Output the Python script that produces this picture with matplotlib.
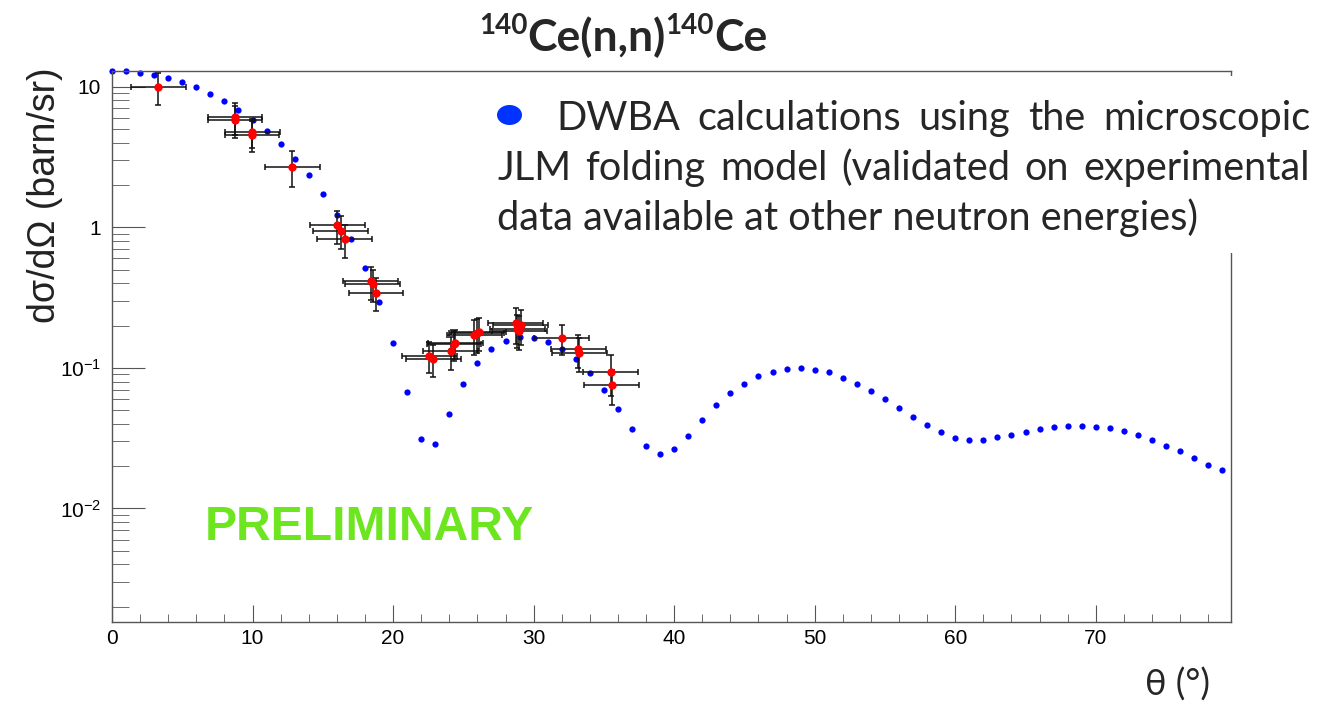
import numpy as np
import matplotlib.pyplot as plt
from matplotlib.patches import Rectangle, Ellipse
from matplotlib.ticker import MultipleLocator, FixedLocator, FixedFormatter, LogLocator, NullFormatter

plt.rcParams['font.family'] = 'Liberation Sans'
plt.rcParams['mathtext.fontset'] = 'custom'
plt.rcParams['mathtext.rm'] = 'Liberation Sans'
plt.rcParams['mathtext.it'] = 'Liberation Sans:italic'
plt.rcParams['mathtext.bf'] = 'Liberation Sans:bold'

# DWBA / JLM calculation, 1 degree steps
theta_calc = list(range(80))
xs_calc = [13.0, 12.9, 12.6, 12.1, 11.6, 10.8, 9.9, 8.87, 7.91, 6.82,
           5.77, 4.82, 3.91, 3.06, 2.36, 1.73, 1.22, 0.826, 0.511, 0.296,
           0.150, 0.0670, 0.0312, 0.0288, 0.0472, 0.0764, 0.108, 0.136, 0.155, 0.165,
           0.162, 0.153, 0.136, 0.115, 0.0916, 0.0697, 0.0510, 0.0366, 0.0277, 0.0243,
           0.0264, 0.0326, 0.0426, 0.0542, 0.0663, 0.0773, 0.0876, 0.0939, 0.0982, 0.0998,
           0.0971, 0.0930, 0.0852, 0.0773, 0.0689, 0.0604, 0.0516, 0.0448, 0.0393, 0.0348,
           0.0319, 0.0308, 0.0308, 0.0321, 0.0332, 0.0348, 0.0366, 0.0380, 0.0386, 0.0386,
           0.0382, 0.0374, 0.0357, 0.0332, 0.0307, 0.0280, 0.0255, 0.0229, 0.0205, 0.0187]

# measured points
theta_exp = [3.30, 8.75, 8.75, 9.99, 9.94, 12.83, 16.04, 16.28, 16.56, 18.41,
             18.55, 18.79, 22.58, 22.87, 24.11, 24.34, 24.43, 25.77, 25.96, 26.10,
             28.73, 28.85, 28.97, 29.09, 32.01, 33.19, 33.26, 35.49, 35.57]
xs_exp = [9.95, 6.10, 5.80, 4.79, 4.56, 2.70, 1.03, 0.946, 0.826, 0.415,
          0.394, 0.343, 0.1216, 0.116, 0.132, 0.147, 0.150, 0.171, 0.176, 0.179,
          0.2075, 0.188, 0.184, 0.201, 0.1625, 0.1357, 0.128, 0.0935, 0.0752]
dtheta_exp = [1.93, 1.93, 1.93, 1.93, 1.93, 1.96, 1.95, 1.95, 1.95, 1.95,
              1.95, 1.95, 1.95, 1.95, 1.95, 1.95, 1.95, 1.95, 1.95, 1.95,
              1.95, 1.95, 1.95, 1.95, 1.95, 1.95, 1.95, 1.95, 1.95]
dxs_exp = [2.5, 1.6, 1.5, 1.15, 1.15, 0.77, 0.27, 0.25, 0.22, 0.11,
           0.10, 0.09, 0.03, 0.03, 0.035, 0.035, 0.035, 0.048, 0.048, 0.048,
           0.06, 0.05, 0.05, 0.055, 0.038, 0.036, 0.034, 0.03, 0.021]

W, H = 1320, 703
fig = plt.figure(figsize=(W / 100, H / 100), dpi=100)
ax = fig.add_axes([112 / W, 1 - 622.3 / H, (1230.7 - 112) / W, (622.3 - 70.7) / H])
ax.set_yscale('log')
ax.set_xlim(0, 79.6)
ax.set_ylim(1.55e-3, 13.0)

ax.plot(theta_calc, xs_calc, 'o', color='blue', ms=4.5, mec='none', zorder=2, clip_on=False)
ax.errorbar(theta_exp, xs_exp, xerr=dtheta_exp, yerr=dxs_exp, fmt='none',
            ecolor='#111111', elinewidth=1.1, capsize=2.5, capthick=1.1, zorder=3)
ax.plot(theta_exp, xs_exp, 'o', color='red', ms=6, mec='none', zorder=4)

# ROOT style axes
ax.xaxis.set_major_locator(MultipleLocator(10))
ax.xaxis.set_minor_locator(MultipleLocator(2))
ax.yaxis.set_major_locator(FixedLocator([1e-2, 1e-1, 1, 10]))
ax.yaxis.set_major_formatter(FixedFormatter(['$10^{-2}$', '$10^{-1}$', '1', '10']))
ax.yaxis.set_minor_locator(LogLocator(base=10, subs=np.arange(2, 10), numticks=20))
ax.yaxis.set_minor_formatter(NullFormatter())
ax.tick_params(axis='both', which='both', direction='in', top=False, right=False,
               color='#555555', labelsize=15)
ax.tick_params(axis='x', which='major', length=12, pad=5)
ax.tick_params(axis='x', which='minor', length=6)
ax.tick_params(axis='y', which='major', length=24, pad=8)
ax.tick_params(axis='y', which='minor', length=12)
for s in ax.spines.values():
    s.set_color('#555555')
    s.set_linewidth(1)

renderer = fig.canvas.get_renderer()
txtcol = '#262626'

# title built from pieces (superscript mass numbers)
pieces = [('140', 20, 34), ('Ce(n,n)', 32, 51), ('140', 20, 34), ('Ce', 32, 51)]
objs = []
for s, fs, base in pieces:
    t = fig.text(0, 1 - base / H, s, fontsize=fs, fontweight='bold', family='Lato',
                 color=txtcol, ha='left', va='baseline')
    objs.append(t)
widths = [t.get_window_extent(renderer).width for t in objs]
x = 623 - sum(widths) / 2
for t, w in zip(objs, widths):
    t.set_x(x / W)
    x += w

# legend box pasted over the frame
fig.add_artist(Rectangle((478 / W, 1 - 253 / H), (W - 478) / W, (253 - 76) / H,
                         transform=fig.transFigure, facecolor='white', edgecolor='none', zorder=5))
fig.add_artist(Ellipse((509.5 / W, 1 - 115 / H), 25 / W, 20 / H, transform=fig.transFigure,
                       facecolor='#0033ff', edgecolor='none', zorder=6))

leg_kw = dict(fontsize=28.6, family='Lato', color=txtcol, ha='left', va='baseline', zorder=6)


def justify(words, x0, x1, base):
    ts = [fig.text(0, 1 - base / H, w, **leg_kw) for w in words]
    ws = [t.get_window_extent(renderer).width for t in ts]
    gap = (x1 - x0 - sum(ws)) / (len(words) - 1)
    xx = x0
    for t, w in zip(ts, ws):
        t.set_x(xx / W)
        xx += w + gap


justify('DWBA calculations using the microscopic'.split(), 556, 1310, 130)
justify('JLM folding model (validated on experimental'.split(), 497, 1310, 180)
fig.text(497 / W, 1 - 230 / H, 'data available at other neutron energies)', **leg_kw)

fig.text(45 / W, 1 - 195 / H, 'dσ/dΩ (barn/sr)', rotation=90, ha='center', va='center',
         fontsize=27, color='#222222')
fig.text(1210 / W, 1 - 685 / H, 'θ (°)', ha='right', va='center', fontsize=26,
         family=['Lato', 'Open Sans', 'DejaVu Sans'], color=txtcol)
fig.text(369 / W, 1 - 528 / H, 'PRELIMINARY', ha='center', va='center', fontsize=34.6,
         fontweight='bold', color='#6de620')

fig.savefig('out.png', dpi=100)
